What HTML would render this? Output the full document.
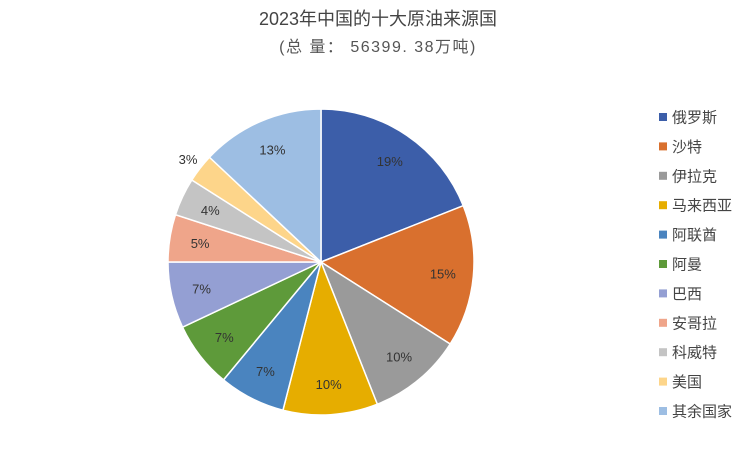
<!DOCTYPE html>
<html><head><meta charset="utf-8"><style>
body{margin:0;background:#fff;width:752px;height:451px;overflow:hidden;font-family:"Liberation Sans","Noto Sans CJK SC",sans-serif;}
</style></head><body>
<svg width="752" height="451">
<text x="378" y="25" text-anchor="middle" font-size="18" fill="#444">2023年中国的十大原油来源国</text>
<text x="378" y="52" text-anchor="middle" font-size="16" fill="#555" letter-spacing="1.5">(总 量： 56399. 38万吨)</text>
<g id="slices"></g><g id="labels"></g><g id="legend"></g>
</svg>
<script>
const categories=["俄罗斯","沙特","伊拉克","马来西亚","阿联酋","阿曼","巴西","安哥拉","科威特","美国","其余国家"];
const values=[19,15,10,10,7,7,7,5,4,3,13];
const colors=["#3C5EA9","#D9702E","#9A9A9A","#E6AD00","#4A84BF","#5E9A3A","#949FD3","#EFA58A","#C4C4C4","#FDD58A","#9DBEE3"];
const ns="http://www.w3.org/2000/svg";
const cx=321,cy=262,R=153;
const total=values.reduce((a,b)=>a+b,0);
const sg=document.getElementById('slices'),lg=document.getElementById('labels'),leg=document.getElementById('legend');
let cum=0;
function pt(a,r){return [cx+r*Math.sin(a),cy-r*Math.cos(a)];}
values.forEach((v,i)=>{
 const a0=cum/total*2*Math.PI;cum+=v;const a1=cum/total*2*Math.PI;
 const p0=pt(a0,R),p1=pt(a1,R);
 const p=document.createElementNS(ns,'path');
 p.setAttribute('d',`M${cx},${cy}L${p0[0]},${p0[1]}A${R},${R} 0 ${a1-a0>Math.PI?1:0} 1 ${p1[0]},${p1[1]}Z`);
 p.setAttribute('fill',colors[i]);p.setAttribute('stroke','#fff');p.setAttribute('stroke-width','1.5');
 
 
 sg.appendChild(p);
 const am=(a0+a1)/2;const f=v/total<0.035?1.1:0.8;const lp=pt(am,R*f);
 const t=document.createElementNS(ns,'text');
 t.setAttribute('x',lp[0]);t.setAttribute('y',lp[1]+5);t.setAttribute('text-anchor','middle');
 t.setAttribute('font-size','13');t.setAttribute('fill','#333');t.textContent=v+'%';
 
 
 lg.appendChild(t);
 const y=117+i*29.4;
 const g=document.createElementNS(ns,'g');
 
 
 const r=document.createElementNS(ns,'rect');
 r.setAttribute('x',659);r.setAttribute('y',y-4);r.setAttribute('width',8);r.setAttribute('height',8);r.setAttribute('fill',colors[i]);
 const lt=document.createElementNS(ns,'text');
 lt.setAttribute('x',672);lt.setAttribute('y',y+5.5);lt.setAttribute('font-size','15');lt.setAttribute('fill','#444');lt.textContent=categories[i];
 g.appendChild(r);g.appendChild(lt);leg.appendChild(g);
});
</script>
</body></html>
